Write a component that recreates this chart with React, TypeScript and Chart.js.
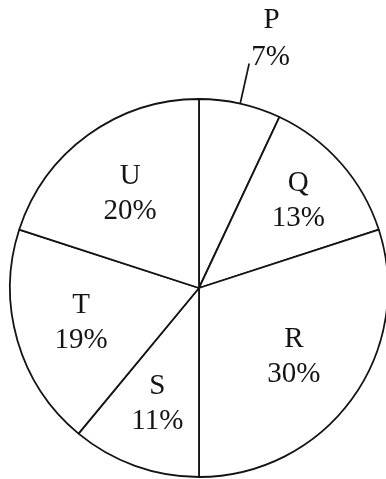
import React, { useEffect, useRef } from "react";
import { Chart, registerables } from "chart.js";

Chart.register(...registerables);

const categories = ["P", "Q", "R", "S", "T", "U"];
const shares = [7, 13, 30, 11, 19, 20];
// label placement style: fraction of radius for inside labels; null = outside with leader
const labelRadius: (number | null)[] = [null, 0.7, 0.62, 0.65, 0.65, 0.62];

const FONT = '29px "Liberation Serif", "Times New Roman", serif';
const INK = "#141414";

const sliceLabels = {
  id: "sliceLabels",
  afterDatasetsDraw(chart: any) {
    const ctx = chart.ctx;
    const meta = chart.getDatasetMeta(0);
    ctx.save();
    ctx.font = FONT;
    ctx.fillStyle = INK;
    ctx.strokeStyle = INK;
    ctx.textBaseline = "middle";
    meta.data.forEach((arc: any, i: number) => {
      const { x, y, startAngle, endAngle, outerRadius } = arc.getProps(
        ["x", "y", "startAngle", "endAngle", "outerRadius"],
        true
      );
      const mid = (startAngle + endAngle) / 2;
      const name = String(chart.data.labels[i]);
      const pct = shares[i] + "%";
      const f = labelRadius[i];
      if (f == null) {
        const x1 = x + Math.cos(mid) * outerRadius;
        const y1 = y + Math.sin(mid) * outerRadius;
        const x2 = x + Math.cos(mid) * (outerRadius + 41);
        const y2 = y + Math.sin(mid) * (outerRadius + 41);
        ctx.lineWidth = 1.7;
        ctx.beginPath();
        ctx.moveTo(x1, y1);
        ctx.lineTo(x2, y2);
        ctx.stroke();
        const w = ctx.measureText(pct).width;
        const tx = x2 + 2;
        const ty = y2 - 6;
        ctx.textAlign = "left";
        ctx.fillText(pct, tx, ty);
        ctx.textAlign = "center";
        ctx.fillText(name, tx + w / 2 + 1, ty - 37);
      } else {
        const r = outerRadius * f;
        const cx = x + Math.cos(mid) * r;
        const cy = y + Math.sin(mid) * r;
        ctx.textAlign = "center";
        ctx.fillText(name, cx, cy - 17);
        ctx.fillText(pct, cx, cy + 18);
      }
    });
    ctx.restore();
  },
};

export default function App() {
  const ref = useRef<HTMLCanvasElement | null>(null);
  useEffect(() => {
    if (!ref.current) return;
    const chart = new Chart(ref.current, {
      type: "pie",
      data: {
        labels: categories,
        datasets: [
          {
            data: shares,
            backgroundColor: "#ffffff",
            borderColor: INK,
            borderWidth: 1.8,
            radius: 189,
            clip: false,
          } as any,
        ],
      },
      options: {
        responsive: false,
        animation: false,
        events: [],
        layout: { padding: { left: 12, right: 0, top: 97, bottom: 0 } },
        plugins: {
          legend: { display: false },
          tooltip: { enabled: false },
          title: { display: false },
        },
      },
      plugins: [sliceLabels],
    });
    return () => chart.destroy();
  }, []);
  return (
    <div
      style={{
        position: "fixed",
        left: 0,
        top: 0,
        width: 386,
        height: 479,
        background: "#ffffff",
        overflow: "hidden",
      }}
    >
      <canvas ref={ref} width={386} height={479} style={{ display: "block" }} />
    </div>
  );
}
